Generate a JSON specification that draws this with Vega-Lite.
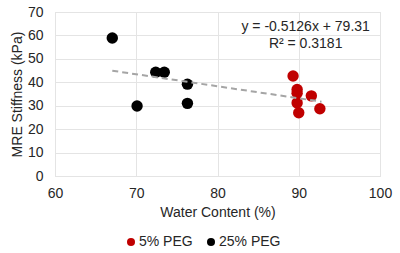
{
  "$schema": "https://vega.github.io/schema/vega-lite/v6.json",
  "width": 325,
  "height": 164,
  "autosize": {"type": "none"},
  "padding": {"left": 55, "top": 12, "right": 20, "bottom": 77},
  "background": "white",
  "config": {
    "font": "Liberation Sans",
    "view": {"stroke": "#d9d9d9", "strokeWidth": 1},
    "axis": {
      "domain": false,
      "ticks": false,
      "grid": true,
      "gridColor": "#e4e4e4",
      "labelOverlap": false,
      "labelFlush": false,
      "labelFont": "Liberation Sans",
      "labelFontSize": 14,
      "labelColor": "#262626",
      "titleFont": "Liberation Sans",
      "titleFontSize": 14,
      "titleFontWeight": "normal",
      "titleColor": "#262626"
    },
    "legend": {
      "labelFont": "Liberation Sans",
      "labelFontSize": 14,
      "labelColor": "#262626"
    }
  },
  "datasets": {
    "points": [
      {"wc": 67.05, "stiff": 58.9, "group": "25% PEG"},
      {"wc": 70.1, "stiff": 29.9, "group": "25% PEG"},
      {"wc": 72.4, "stiff": 44.3, "group": "25% PEG"},
      {"wc": 73.45, "stiff": 44.3, "group": "25% PEG"},
      {"wc": 76.3, "stiff": 39.2, "group": "25% PEG"},
      {"wc": 76.3, "stiff": 31.0, "group": "25% PEG"},
      {"wc": 89.3, "stiff": 42.7, "group": "5% PEG"},
      {"wc": 89.8, "stiff": 36.9, "group": "5% PEG"},
      {"wc": 89.8, "stiff": 35.3, "group": "5% PEG"},
      {"wc": 89.8, "stiff": 31.2, "group": "5% PEG"},
      {"wc": 90.0, "stiff": 27.0, "group": "5% PEG"},
      {"wc": 91.55, "stiff": 34.2, "group": "5% PEG"},
      {"wc": 92.6, "stiff": 28.7, "group": "5% PEG"}
    ],
    "trend": [
      {"wc": 67.05, "stiff": 44.94},
      {"wc": 92.8, "stiff": 31.74}
    ],
    "labels": [
      {"wc": 90.85, "stiff": 63.6, "text": "y = -0.5126x + 79.31"},
      {"wc": 90.85, "stiff": 56.5, "text": "R² = 0.3181"}
    ]
  },
  "encoding": {
    "x": {"field": "wc", "type": "quantitative", "scale": {"domain": [60, 100], "nice": false}, "axis": {"title": "Water Content (%)", "values": [60, 70, 80, 90, 100], "labelPadding": 10, "titlePadding": 5}},
    "y": {"field": "stiff", "type": "quantitative", "scale": {"domain": [0, 70], "nice": false}, "axis": {"title": "MRE Stiffness (kPa)", "values": [0, 10, 20, 30, 40, 50, 60, 70], "tickCount": 8, "labelPadding": 12, "titlePadding": 3}}
  },
  "layer": [
    {
      "data": {"name": "points"},
      "mark": {"type": "circle", "size": 130, "opacity": 1},
      "encoding": {
        "color": {
          "field": "group", "type": "nominal",
          "scale": {"domain": ["5% PEG", "25% PEG"], "range": ["#c00000", "#000000"]},
          "legend": {"title": null, "orient": "none", "legendX": 69, "legendY": 223, "direction": "horizontal", "symbolType": "circle", "symbolSize": 64, "labelOffset": 1, "columnPadding": 11}
        }
      }
    },
    {
      "data": {"name": "trend"},
      "mark": {"type": "line", "color": "#a5a5a5", "strokeWidth": 2, "strokeDash": [6, 4]},
      "encoding": {}
    },
    {
      "data": {"name": "labels"},
      "mark": {"type": "text", "fontSize": 14, "color": "#262626", "align": "center", "baseline": "middle"},
      "encoding": {
        "text": {"field": "text"}
      }
    }
  ]
}
